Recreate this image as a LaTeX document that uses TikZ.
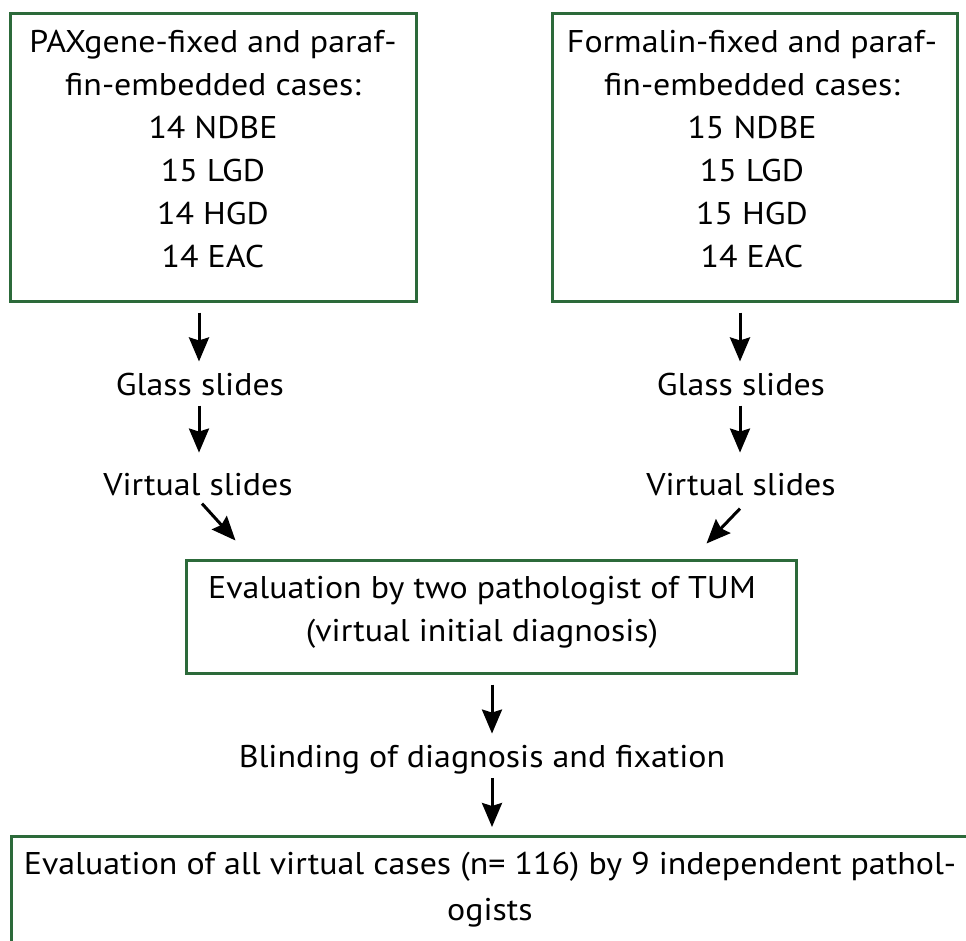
\documentclass[tikz,border=0pt]{standalone}
\usepackage{fontspec}
\setmainfont{PT Sans}[FakeStretch=1.08]
\usetikzlibrary{arrows.meta,calc}
\definecolor{boxgreen}{RGB}{44,106,58}
\tikzset{
  box/.style={draw=boxgreen, line width=3pt, inner sep=0pt},
  txt/.style={align=center, inner sep=0pt, font=\fontsize{31.4}{43}\selectfont},
  lbl/.style={inner sep=0pt, anchor=base, font=\fontsize{31.4}{43}\selectfont},
  arr/.style={line width=3pt, -{Stealth[length=24pt,width=20pt,inset=3pt]}}
}
\begin{document}
\begin{tikzpicture}[x=1pt,y=-1pt]
\useasboundingbox (0,0) rectangle (966,940);
\clip (0,0) rectangle (966,940);
% top boxes
\node[box, minimum width=406pt, minimum height=288pt] (pax) at (213,157) {};
\node[txt] (paxt) at (213,149.5) {PAXgene-fixed and paraf-\\fin-embedded cases:\\14 NDBE\\15 LGD\\14 HGD\\14 EAC};
\node[box, minimum width=405pt, minimum height=288pt] (ffpe) at (754.5,157) {};
\node[txt] (ffpet) at (752,149.5) {Formalin-fixed and paraf-\\fin-embedded cases:\\15 NDBE\\15 LGD\\15 HGD\\14 EAC};
% labels
\node[lbl] (gl1) at (200,395) {Glass slides};
\node[lbl] (vs1) at (198,495) {Virtual slides};
\node[lbl] (gl2) at (741,395) {Glass slides};
\node[lbl] (vs2) at (741,495) {Virtual slides};
% middle box
\node[box, minimum width=610pt, minimum height=113pt] (mid) at (491,616.5) {};
\node[txt] (midt) at (482,612) {Evaluation by two pathologist of TUM\\(virtual initial diagnosis)};
\node[lbl] (blind) at (482,767) {Blinding of diagnosis and fixation};
% bottom box
\node[box, anchor=north west, minimum width=980pt, minimum height=140pt] (eval) at (10,835) {};
\node[txt, anchor=north, font=\fontsize{31.4}{46}\selectfont] (evalt) at (490,852) {Evaluation of all virtual cases (n= 116) by 9 independent pathol-\\ogists};
% arrows
\draw[arr] ($(pax.south -| gl1)+(-1,10)$) -- ($(gl1.north)+(-1,-11)$);
\draw[arr] ($(gl1.south)+(-1,10)$) -- ($(vs1.north)+(1,-20)$);
\draw[arr] ($(vs1.south)+(4,8)$) -- ($(mid.north west)+(51,-18)$);
\draw[arr] ($(ffpe.south -| gl2)+(-1,10)$) -- ($(gl2.north)+(-1,-11)$);
\draw[arr] ($(gl2.south)+(-1,10)$) -- ($(vs2.north)+(-1,-20)$);
\draw[arr] ($(vs2.south)+(-1,13)$) -- ($(mid.north east)+(-91,-15)$);
\draw[arr] ($(mid.south -| blind)+(10,10)$) -- ($(blind.north)+(10,-11)$);
\draw[arr] ($(blind.south)+(10,4)$) -- ($(eval.north -| blind)+(10,-8)$);
\end{tikzpicture}
\end{document}
